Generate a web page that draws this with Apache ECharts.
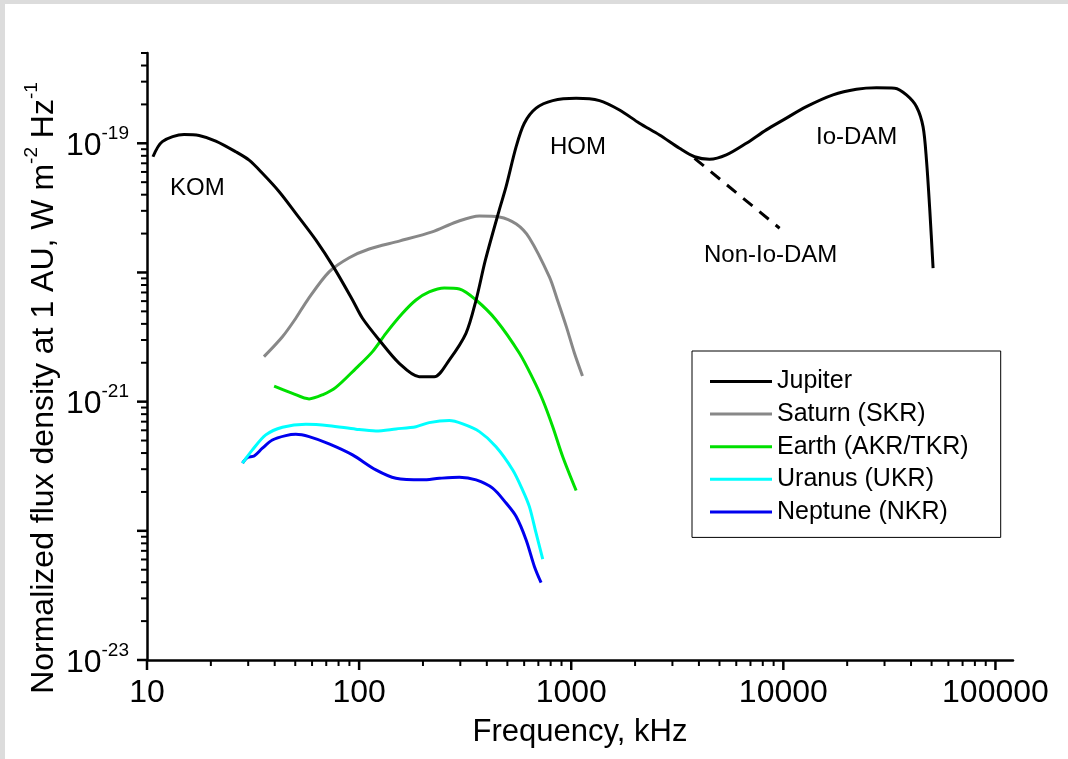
<!DOCTYPE html>
<html><head><meta charset="utf-8">
<script src="https://cdn.jsdelivr.net/npm/echarts@6/dist/echarts.min.js"></script>
<style>
html,body{margin:0;padding:0;background:#fff;}
#chart{position:absolute;left:0;top:0;width:1068px;height:759px;}
.band{position:absolute;background:#dcdcdc;z-index:5;}
</style></head><body>
<div id="chart"></div>
<div class="band" style="left:0;top:0;width:1068px;height:4px"></div>
<div class="band" style="left:0;top:0;width:5px;height:759px"></div>
<script>
// ---- data (frequency kHz, normalized flux density W m^-2 Hz^-1) ----
const jupiter = [[10.67,7.87e-20],[11.81,1.03e-19],[14.95,1.17e-19],[17.6,1.15e-19],[21.1,1.04e-19],[26.2,8.6e-20],[30.3,7.4e-20],[35.0,5.86e-20],[42.0,4.22e-20],[50.3,2.87e-20],[62.6,1.78e-20],[76.3,1.08e-20],[93.1,6.12e-21],[103.7,4.42e-21],[124.4,3.0e-21],[154.6,1.98e-21],[192,1.56e-21],[226,1.56e-21],[266,2.1e-21],[319,3.38e-21],[356,6.12e-21],[394,1.25e-20],[458,3.05e-20],[493,4.61e-20],[550,9.41e-20],[601,1.43e-19],[683,1.87e-19],[818,2.14e-19],[1055,2.23e-19],[1359,2.14e-19],[1689,1.81e-19],[2098,1.43e-19],[2608,1.16e-19],[3240,9.15e-20],[3814,7.87e-20],[4490,7.52e-20],[5383,8.12e-20],[6690,1.0e-19],[8313,1.27e-19],[9957,1.51e-19],[12843,1.92e-19],[17146,2.37e-19],[22113,2.62e-19],[27477,2.69e-19],[33520,2.67e-19],[38060,2.37e-19],[42440,1.92e-19],[45590,1.34e-19],[47300,7.4e-20],[49030,3.05e-20],[50820,1.08e-20]];
const nonIoDam = [[3814,7.65e-20],[9604,2.2e-20]];
const saturn = [[35.6,2.23e-21],[43.5,3.18e-21],[50.3,4.42e-21],[57.1,6.12e-21],[72.2,1.01e-20],[89.8,1.3e-20],[111.6,1.52e-20],[154.6,1.75e-20],[221,2.06e-20],[287,2.46e-20],[369,2.74e-20],[458,2.69e-20],[551,2.37e-20],[635,1.85e-20],[789,9.23e-21],[861,6.12e-21],[949,3.79e-21],[1035,2.38e-21],[1130,1.58e-21]];
const earth = [[39.75,1.32e-21],[48.5,1.16e-21],[58.1,1.05e-21],[67.2,1.13e-21],[77.7,1.29e-21],[96.6,1.81e-21],[115.7,2.44e-21],[133.8,3.38e-21],[160.2,4.83e-21],[185.4,6.12e-21],[214,7.07e-21],[252,7.59e-21],[297,7.45e-21],[356,6.12e-21],[442,4.29e-21],[570,2.37e-21],[658,1.52e-21],[734,1.03e-21],[818,6.4e-22],[912,3.75e-22],[1055,2.05e-22]];
const uranus = [[28.2,3.34e-22],[31.4,4.23e-22],[36.3,5.53e-22],[43.5,6.34e-22],[56.1,6.69e-22],[72.2,6.52e-22],[96.6,6.12e-22],[120,5.93e-22],[149.2,6.15e-22],[185.4,6.4e-22],[214,6.88e-22],[266,7.13e-22],[308,6.72e-22],[369,5.86e-22],[442,4.48e-22],[530,2.96e-22],[590,2.07e-22],[635,1.54e-22],[683,9.58e-23],[734,6.03e-23]];
const neptune = [[28.2,3.34e-22],[29.75,3.69e-22],[32.0,3.8e-22],[35.0,4.36e-22],[39.0,5.05e-22],[45.1,5.46e-22],[50.3,5.59e-22],[58.1,5.36e-22],[72.2,4.71e-22],[93.1,3.87e-22],[120,2.96e-22],[149.2,2.55e-22],[199,2.48e-22],[239,2.55e-22],[297,2.6e-22],[356,2.48e-22],[426,2.14e-22],[493,1.64e-22],[550,1.29e-22],[613,8.5e-23],[671,5.28e-23],[721,3.97e-23]];

const seriesNames = ['Jupiter','Saturn (SKR)','Earth (AKR/TKR)','Uranus (UKR)','Neptune (NKR)'];
const regionLabels = ['KOM','HOM','Io-DAM','Non-Io-DAM'];
const xTitle = 'Frequency, kHz';
const yTitle = ['Normalized flux density at 1 AU, W m','-2',' Hz','-1'];

// axis ranges and ticks
const X_MIN = 10, X_MAX = 121000;
const Y_MIN = 1e-23, Y_MAX = 5e-19;
const xMajorTicks = [10,100,1000,10000,100000];
const xMinorTicks = [20,30,40,50,60,70,80,90,200,300,400,500,600,700,800,900,2000,3000,4000,5000,6000,7000,8000,9000,20000,30000,40000,50000,60000,70000,80000,90000];
const yMajorTicks = [1e-23,1e-22,1e-21,1e-20,1e-19];
const yLabelExponents = [-23,-21,-19];
const yMinorTicks = [2e-23,3e-23,4e-23,5e-23,6e-23,7e-23,8e-23,9e-23,2e-22,3e-22,4e-22,5e-22,6e-22,7e-22,8e-22,9e-22,2e-21,3e-21,4e-21,5e-21,6e-21,7e-21,8e-21,9e-21,2e-20,3e-20,4e-20,5e-20,6e-20,7e-20,8e-20,9e-20,2e-19,3e-19,4e-19,5e-19];

// ECharts rounds to 20 decimals, so flux is plotted in units of 1e-23 W m^-2 Hz^-1
const Y_UNIT_EXP = -23;
const Y_UNIT = 1e-23;
const sy = v => Math.round(v / Y_UNIT * 1e6) / 1e6;
const scalePts = arr => arr.map(p => [p[0], sy(p[1])]);

const FONT = '"Liberation Sans", Arial, sans-serif';
const colors = ['#000000','#888888','#00e000','#00ffff','#0000ee'];

const xTickData = xMajorTicks.map(v => [v, sy(Y_MIN), 10, 2.5]).concat(xMinorTicks.map(v => [v, sy(Y_MIN), 6, 2]));
const yTickData = yMajorTicks.map(v => [X_MIN, sy(v), 10, 2.5]).concat(yMinorTicks.map(v => [X_MIN, sy(v), 6, 2]));

function isPow10(v){ const l = Math.log10(v); return Math.abs(l - Math.round(l)) < 1e-6; }

const chart = echarts.init(document.getElementById('chart'), null, {renderer:'canvas'});

const lineSeries = [jupiter, saturn, earth, uranus, neptune].map((d, i) => ({
  name: seriesNames[i], type: 'line', data: scalePts(d), symbol: 'none', showSymbol: false,
  smooth: 0.3,
  lineStyle: {color: colors[i], width: 3}, itemStyle: {color: colors[i]},
  z: 10 - i
}));

const option = {
  animation: false,
  backgroundColor: '#ffffff',
  grid: {left: 147, right: 55, top: 53, bottom: 99},
  xAxis: {
    type: 'log', logBase: 10, min: X_MIN, max: X_MAX,
    axisLine: {show: true, lineStyle: {color: '#000', width: 2.5}},
    axisTick: {show: false}, splitLine: {show: false},
    axisLabel: {fontSize: 32, fontFamily: FONT, color: '#000', margin: 17,
      formatter: v => isPow10(v) ? String(Math.round(v)) : ''},
    name: xTitle, nameLocation: 'middle', nameGap: 57,
    nameTextStyle: {fontSize: 31, fontFamily: FONT, color: '#000'}
  },
  yAxis: {
    type: 'log', logBase: 10, min: sy(Y_MIN), max: sy(Y_MAX),
    axisLine: {show: true, lineStyle: {color: '#000', width: 2.5}},
    axisTick: {show: false}, splitLine: {show: false},
    axisLabel: {margin: 18, color: '#000', fontFamily: FONT,
      formatter: v => {
        if (!isPow10(v)) return '';
        const e = Math.round(Math.log10(v)) + Y_UNIT_EXP;
        return yLabelExponents.indexOf(e) >= 0 ? '{b|10}{s|' + e + '}' : '';
      },
      rich: {
        b: {fontSize: 32, fontFamily: FONT, color: '#000', padding: [6,0,0,0]},
        s: {fontSize: 19, fontFamily: FONT, color: '#000', verticalAlign: 'top'}
      }
    }
  },
  legend: {
    data: seriesNames, orient: 'vertical', left: 692, top: 351,
    padding: [18, 32, 13, 18], itemWidth: 62, itemHeight: 3, itemGap: 7.6, icon: 'rect',
    borderColor: '#000', borderWidth: 1, backgroundColor: '#fff',
    textStyle: {fontSize: 25, fontFamily: FONT, color: '#000'}
  },
  graphic: [
    {type: 'text', x: 170, y: 188, style: {text: regionLabels[0], fontSize: 24, fontFamily: FONT, fill: '#000', align: 'left', verticalAlign: 'middle'}},
    {type: 'text', x: 550, y: 147, style: {text: regionLabels[1], fontSize: 24, fontFamily: FONT, fill: '#000', align: 'left', verticalAlign: 'middle'}},
    {type: 'text', x: 816, y: 137, style: {text: regionLabels[2], fontSize: 24, fontFamily: FONT, fill: '#000', align: 'left', verticalAlign: 'middle'}},
    {type: 'text', x: 704, y: 255, style: {text: regionLabels[3], fontSize: 24, fontFamily: FONT, fill: '#000', align: 'left', verticalAlign: 'middle'}},
    {type: 'text', x: 41, y: 388, rotation: Math.PI / 2,
      style: {text: '{n|' + yTitle[0] + '}{s|' + yTitle[1] + '}{n|' + yTitle[2] + '}{s|' + yTitle[3] + '}',
        align: 'center', verticalAlign: 'middle',
        rich: {
          n: {fontSize: 32, fontFamily: FONT, fill: '#000', color: '#000', padding: [6,0,0,0]},
          s: {fontSize: 19, fontFamily: FONT, fill: '#000', color: '#000', verticalAlign: 'top'}
        }}}
  ],
  series: lineSeries.concat([
    {name: 'Non-Io-DAM', type: 'line', data: scalePts(nonIoDam), symbol: 'none', showSymbol: false,
      lineStyle: {color: '#000', width: 3, type: [12, 9]}, z: 11},
    {type: 'custom', data: xTickData, encode: {x: 0, y: 1}, clip: false, silent: true, z: 20,
      renderItem: (params, api) => {
        const p = api.coord([api.value(0), api.value(1)]);
        return {type: 'line', shape: {x1: p[0], y1: p[1], x2: p[0], y2: p[1] + api.value(2)},
          style: {stroke: '#000', lineWidth: api.value(3)}};
      }},
    {type: 'custom', data: yTickData, encode: {x: 0, y: 1}, clip: false, silent: true, z: 20,
      renderItem: (params, api) => {
        const p = api.coord([api.value(0), api.value(1)]);
        return {type: 'line', shape: {x1: p[0], y1: p[1], x2: p[0] - api.value(2), y2: p[1]},
          style: {stroke: '#000', lineWidth: api.value(3)}};
      }}
  ])
};
chart.setOption(option);
</script></body></html>
